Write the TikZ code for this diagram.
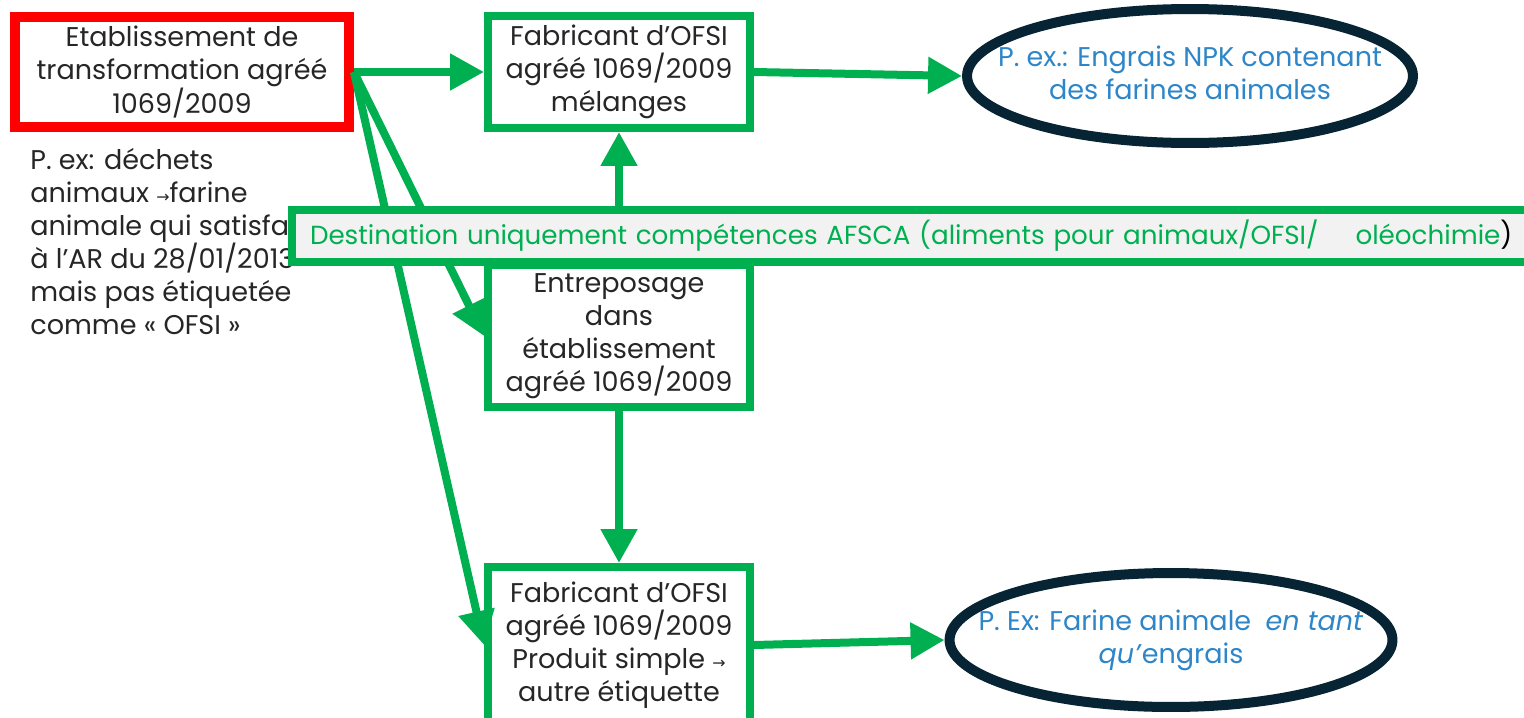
\documentclass[tikz,border=0pt]{standalone}
\usepackage{fontspec}
\setmainfont{Poppins}
\newfontfamily\arrowfont{DejaVu Sans}
\usepackage{tikz}
\definecolor{okgreen}{HTML}{00B050}
\definecolor{plantred}{HTML}{FF0000}
\definecolor{navy}{HTML}{062433}
\definecolor{exblue}{HTML}{2E86C8}
\definecolor{bannergray}{HTML}{F2F2F2}
\newcommand{\txtsize}{\fontsize{15.4}{18.8}\selectfont}
\newcommand{\smallarrow}{{\arrowfont\small →}}
% text of fixed width zero, so the ellipse keeps its own size
\newcommand{\inoval}[1]{\makebox[0pt]{\begin{tabular}{@{}c@{}}#1\end{tabular}}}
\tikzstyle{block}=[draw=okgreen, line width=0.16cm, fill=white, align=center, inner ysep=1pt, minimum width=5.24cm, font=\txtsize, text=black!85]
\tikzstyle{redblock}=[block, draw=plantred, line width=0.2cm, minimum width=6.68cm, minimum height=2.2cm]
\tikzstyle{example}=[ellipse, draw=navy, line width=0.2cm, fill=white, inner sep=0pt, font=\txtsize, text=exblue, minimum height=2.68cm]
\tikzstyle{banner}=[draw=okgreen, line width=0.16cm, fill=bannergray, minimum height=1.04cm, text width=28cm, align=left, inner xsep=0.36cm, font=\fontsize{14.9}{18}\selectfont, text=okgreen]
\tikzstyle{arrow}=[okgreen, line width=0.16cm, -{Triangle[length=0.68cm,width=0.7cm]}]
\usetikzlibrary{shapes.geometric,arrows.meta}

\begin{document}
\begin{tikzpicture}[x=0.02cm,y=-0.02cm]
\useasboundingbox (0,0) rectangle (1524,717);
\clip (0,0) rectangle (1524,717);
% left side
\node (note) [anchor=north west, inner sep=0pt, align=left, font=\txtsize, text=black!85] at (30,148) {P. ex: déchets\\animaux \smallarrow farine\\animale qui satisfait\\à l’AR du 28/01/2013\\mais pas étiquetée\\comme « OFSI »};
\node (plant) [redblock] at (182,72) {Etablissement de\\transformation agréé\\1069/2009};
% middle column
\node (mix) [block, minimum height=2.24cm] at (619,72) {Fabricant d’OFSI\\agréé 1069/2009\\mélanges};
\node (store) [block, minimum height=2.84cm] at (619,336) {Entreposage\\dans\\établissement\\agréé 1069/2009};
\node (single) [block, inner ysep=0pt, minimum height=3.12cm] at (619,645) {Fabricant d’OFSI\\agréé 1069/2009\\Produit simple \smallarrow\\autre étiquette};
% examples
\node (npk) [example, minimum width=8.92cm] at (1190,76) {\inoval{P. ex.: Engrais NPK contenant\\des farines animales}};
\node (meal) [example, minimum width=8.86cm] at (1171,640) {\inoval{P. Ex: Farine animale \ \textit{en tant}\\\textit{qu’}engrais}};
% arrows
\draw[arrow] (plant.east)--(mix.west);
\draw[arrow] (mix.east)--(npk.west);
\draw[arrow] (single.east)--(meal.west);
\draw[arrow] (plant.east)--(store.west);
\draw[arrow] (plant.east)--(single.west);
\draw[arrow] (store.north)--(mix.south);
\draw[arrow] (store.south)--(single.north);
% banner on top
\node (scope) [banner, anchor=west] at (288,236) {Destination uniquement compétences AFSCA (aliments pour animaux/OFSI/\hspace{0.74cm}oléochimie{\color{black})}};
\end{tikzpicture}
\end{document}
